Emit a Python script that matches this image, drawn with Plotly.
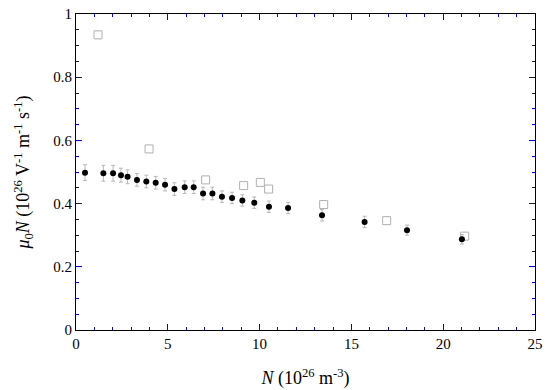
import plotly.graph_objects as go

# Filled circles (with error bars)
n_exp = [0.49, 1.49, 2.02, 2.45, 2.81, 3.32, 3.83, 4.34, 4.85, 5.36, 5.92, 6.41,
         6.92, 7.43, 7.95, 8.5, 9.06, 9.71, 10.51, 11.55, 13.4, 15.72, 18.03, 21.02]
mu_exp = [0.498, 0.496, 0.496, 0.49, 0.485, 0.475, 0.47, 0.466, 0.46, 0.446, 0.452, 0.452,
          0.432, 0.432, 0.422, 0.418, 0.41, 0.403, 0.39, 0.386, 0.363, 0.342, 0.316, 0.287]
err_exp = [0.025, 0.025, 0.025, 0.022, 0.022, 0.02, 0.02, 0.02, 0.02, 0.02, 0.02, 0.02,
           0.02, 0.02, 0.018, 0.018, 0.018, 0.018, 0.018, 0.018, 0.018, 0.018, 0.016, 0.015]

# Open squares
n_sq = [1.2, 3.98, 7.06, 9.13, 10.04, 10.49, 13.49, 16.92, 21.17]
mu_sq = [0.934, 0.573, 0.475, 0.457, 0.467, 0.446, 0.397, 0.346, 0.297]

fig = go.Figure()
fig.add_trace(go.Scatter(
    x=n_sq, y=mu_sq, mode="markers",
    marker=dict(symbol="square-open", size=8, color="#b0b0b0", line=dict(width=1)),
    showlegend=False))
fig.add_trace(go.Scatter(
    x=n_exp, y=mu_exp, mode="markers",
    error_y=dict(type="data", array=err_exp, color="#b8b8b8", thickness=1, width=2),
    marker=dict(symbol="circle", size=6, color="black"),
    showlegend=False))

FAM = "Times New Roman"
axis_common = dict(
    showline=True, linecolor="black", linewidth=1, mirror="ticks",
    ticks="inside", tickcolor="blue", ticklen=6, tickwidth=1,
    showgrid=False, zeroline=False, automargin=False,
    tickfont=dict(size=15, family=FAM, color="black"),
)
fig.update_xaxes(range=[0, 25], dtick=5,
                 minor=dict(ticks="inside", dtick=1, ticklen=3, tickcolor="blue", showgrid=False),
                 title=dict(text="<i>N</i> (10<sup>26</sup> m<sup>-3</sup>)",
                            font=dict(size=18, family=FAM, color="black"), standoff=20),
                 **axis_common)
fig.update_yaxes(range=[0, 1], dtick=0.2,
                 minor=dict(ticks="inside", dtick=0.05, ticklen=3, tickcolor="blue", showgrid=False),
                 title=dict(text="<i>μ</i><sub>0</sub><i>N</i> (10<sup>26</sup> V<sup>-1</sup> m<sup>-1</sup> s<sup>-1</sup>)",
                            font=dict(size=18, family=FAM, color="black"), standoff=18),
                 **axis_common)
fig.update_layout(width=550, height=390, margin=dict(l=76, r=15, t=14, b=60, autoexpand=False),
                  plot_bgcolor="white", paper_bgcolor="white",
                  font=dict(family=FAM, color="black"))
fig.write_html("out.html", config={"displayModeBar": False},
               post_script="document.body.style.margin='0';")
